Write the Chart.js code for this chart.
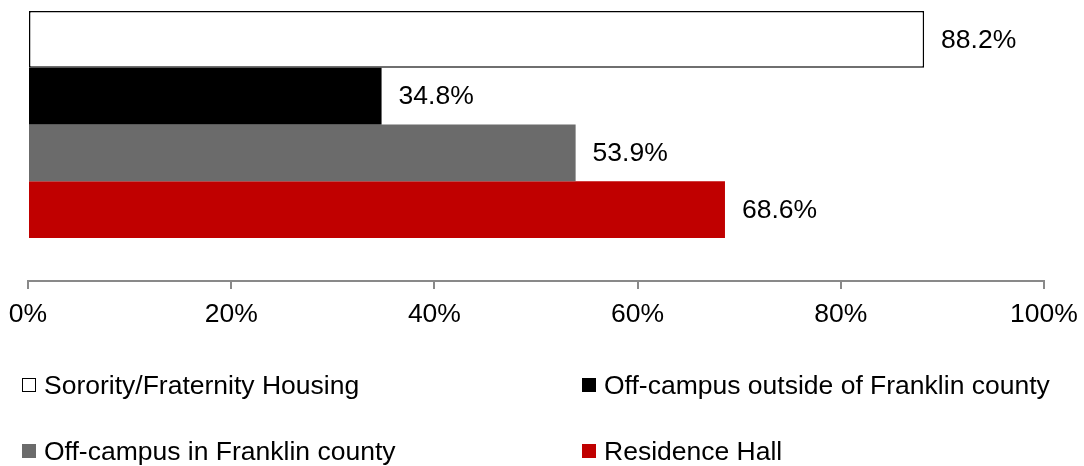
<!DOCTYPE html>
<html>
<head>
<meta charset="utf-8">
<script src="https://cdn.jsdelivr.net/npm/chart.js@4.4.1/dist/chart.umd.min.js"></script>
<style>
  html, body { margin: 0; padding: 0; background: #ffffff; }
  #wrap { position: relative; width: 1084px; height: 466px; overflow: hidden; background: #fff; }
  #chart { position: absolute; left: 0; top: -32px; }
  .lg { position: absolute; display: flex; align-items: center; height: 32px;
        font-family: "Liberation Sans", Arial, sans-serif; font-size: 26.5px; color: #000; white-space: nowrap; }
  .lg .box { width: 14px; height: 14px; box-sizing: border-box; margin-right: 8px; }
</style>
</head>
<body>
<div id="wrap">
  <canvas id="chart" width="1084" height="498"></canvas>
  <div id="legend"></div>
</div>
<script>
// ---- data ----
const categories = ['Housing'];
const seriesNames = [
  'Sorority/Fraternity Housing',
  'Off-campus outside of Franklin county',
  'Off-campus in Franklin county',
  'Residence Hall'
];
const seriesValues = [88.2, 34.8, 53.9, 68.6];
const xTickValues = [0, 20, 40, 60, 80, 100];

// ---- styles ----
const fillColors = ['#ffffff', '#000000', '#6b6b6b', '#c00000'];
const borderColors = ['#000000', '#000000', '#6b6b6b', '#c00000'];
const borderWidths = [1.5, 0, 0, 0];
const FONT = '"Liberation Sans", Arial, sans-serif';
const FONT_SIZE = 26.5;

const datasets = seriesNames.map((name, i) => ({
  label: name,
  data: [seriesValues[i]],
  backgroundColor: fillColors[i],
  borderColor: borderColors[i],
  borderWidth: borderWidths[i],
  borderSkipped: false,
  categoryPercentage: 0.725,
  barPercentage: 1.0
}));

const valueLabels = {
  id: 'valueLabels',
  afterDatasetsDraw(chart) {
    const ctx = chart.ctx;
    ctx.save();
    ctx.font = FONT_SIZE + 'px ' + FONT;
    ctx.fillStyle = '#000000';
    ctx.textAlign = 'left';
    ctx.textBaseline = 'middle';
    chart.data.datasets.forEach((ds, di) => {
      const meta = chart.getDatasetMeta(di);
      meta.data.forEach((el, j) => {
        ctx.fillText(ds.data[j].toFixed(1) + '%', el.x + 17, el.y + 1);
      });
    });
    ctx.restore();
  }
};

const chart = new Chart(document.getElementById('chart'), {
  type: 'bar',
  data: { labels: categories, datasets },
  plugins: [valueLabels],
  options: {
    responsive: false,
    animation: false,
    indexAxis: 'y',
    layout: { padding: { left: 28, right: 40, top: 0, bottom: 0 } },
    plugins: { legend: { display: false }, tooltip: { enabled: false } },
    scales: {
      y: { display: false },
      x: {
        min: 0, max: 100,
        afterBuildTicks(scale) { scale.ticks = xTickValues.map(v => ({ value: v })); },
        afterFit(scale) { scale.height = 185; scale.paddingLeft = 0; scale.paddingRight = 0; },
        grid: { drawOnChartArea: false, drawTicks: true, tickLength: 8, color: '#898989', lineWidth: 2 },
        border: { display: true, color: '#898989', width: 2 },
        ticks: {
          padding: 10,
          color: '#000000',
          font: { family: FONT, size: FONT_SIZE, lineHeight: 1.2 },
          callback: v => v + '%'
        }
      }
    }
  }
});

// ---- legend (2 columns) ----
const legend = document.getElementById('legend');
const colLeft = [22, 582];
const rowCenter = [385, 451];
chart.data.datasets.forEach((ds, i) => {
  const item = document.createElement('div');
  item.className = 'lg';
  item.style.left = colLeft[i % 2] + 'px';
  item.style.top = (rowCenter[Math.floor(i / 2)] - 16) + 'px';
  const box = document.createElement('span');
  box.className = 'box';
  box.style.background = ds.backgroundColor;
  if (ds.borderWidth > 0) box.style.border = '1.5px solid ' + ds.borderColor;
  const txt = document.createElement('span');
  txt.textContent = ds.label;
  item.appendChild(box);
  item.appendChild(txt);
  legend.appendChild(item);
});
</script>
</body>
</html>
